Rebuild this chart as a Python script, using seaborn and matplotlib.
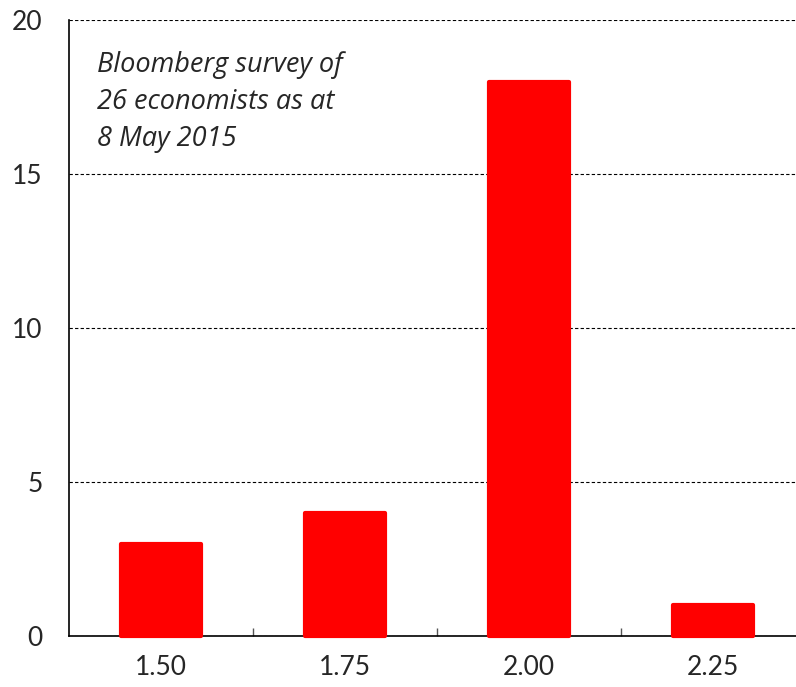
import pandas as pd
import seaborn as sns
import matplotlib.pyplot as plt

rates = ['1.50', '1.75', '2.00', '2.25']
counts = [3, 4, 18, 1]
note = 'Bloomberg survey of\n26 economists as at\n8 May 2015'

df = pd.DataFrame({'Rate': rates, 'Count': counts})

sns.set_style('white')
plt.rcParams['font.family'] = ['Lato', 'DejaVu Sans']

fig = plt.figure(figsize=(7.96, 6.87), dpi=100)
ax = fig.add_axes([69 / 796, 1 - 636 / 687, 736 / 796, 616 / 687])

sns.barplot(data=df, x='Rate', y='Count', color='#ff0000', width=0.43,
            saturation=1, ax=ax, zorder=3)
for p in ax.patches:
    p.set_edgecolor('#ff0000')
    p.set_linewidth(3)
    p.set_joinstyle('round')
    p.set_clip_on(False)

ax.set_xlim(-0.5, 3.5)
ax.set_ylim(0, 20)
ax.set_yticks([0, 5, 10, 15, 20])
ax.yaxis.grid(True, color='black', linestyle=(0, (3, 2)), linewidth=0.8, zorder=0)
ax.set_axisbelow(True)

ax.set_xticks([0.5, 1.5, 2.5], minor=True)
ax.tick_params(axis='x', which='minor', direction='in', length=6, width=1, color='#555555', bottom=True)
ax.tick_params(axis='x', which='major', length=0, pad=14, labelsize=19)
ax.tick_params(axis='y', length=0, pad=19, labelsize=19)

for s in ['top', 'right']:
    ax.spines[s].set_visible(False)
for s in ['left', 'bottom']:
    ax.spines[s].set_color('black')
    ax.spines[s].set_linewidth(1.2)

ax.set_xlabel('')
ax.set_ylabel('')
ax.text(28 / 736, 1 - 31 / 616, note, transform=ax.transAxes, fontsize=19.5,
        style='italic', family=['Open Sans', 'DejaVu Sans'],
        va='top', ha='left', linespacing=1.42)

fig.savefig('out.png', dpi=100)
